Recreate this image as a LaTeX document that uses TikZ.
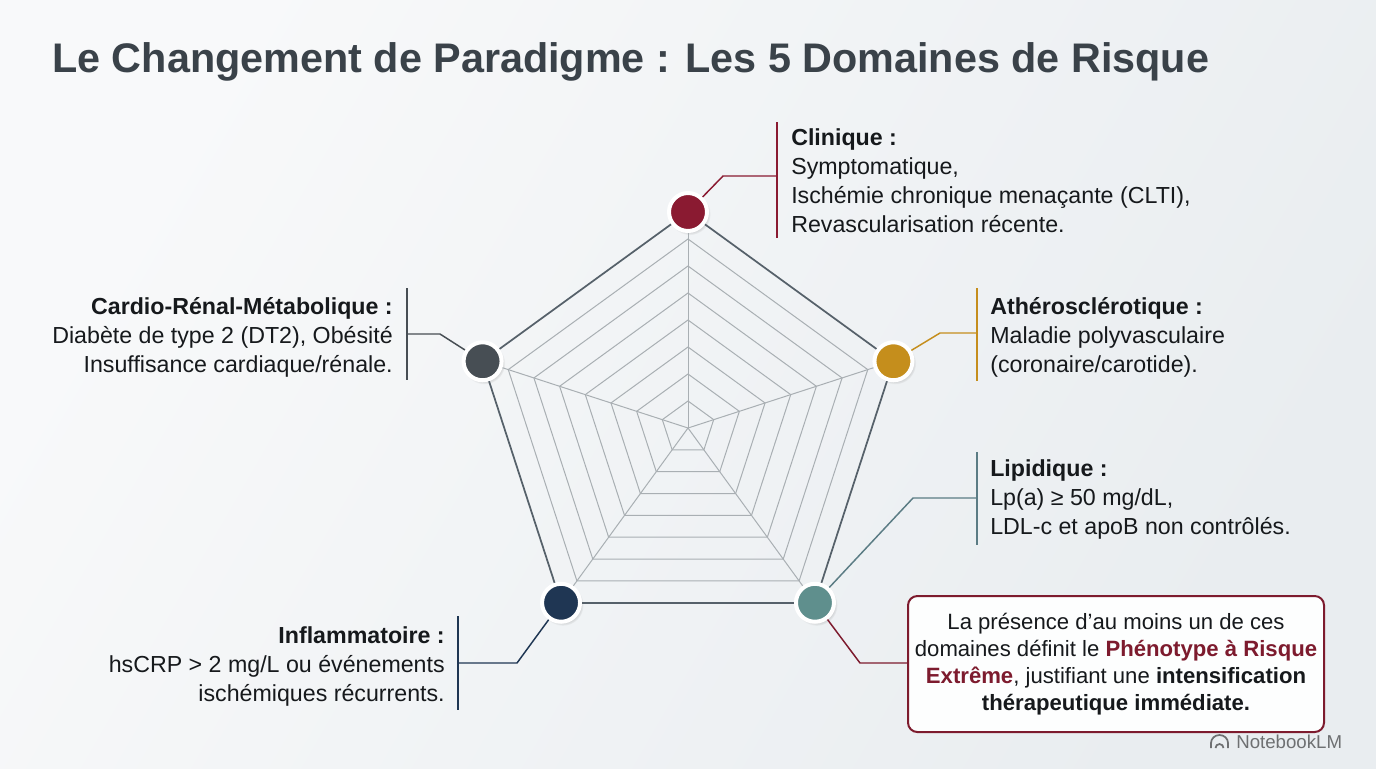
\documentclass[tikz,border=0pt]{standalone}
\usepackage{fontspec}
\setmainfont{Liberation Sans}
\usepackage{xcolor}
\usepackage{tikz}
\usetikzlibrary{shadows}

\definecolor{titleGrey}{HTML}{3A4249}
\definecolor{inkBlack}{HTML}{16191C}
\definecolor{clinRed}{HTML}{8A1A31}
\definecolor{atheroGold}{HTML}{C58E1C}
\definecolor{lipidTeal}{HTML}{5F8F8D}
\definecolor{lipidLine}{HTML}{5B7C84}
\definecolor{inflamNavy}{HTML}{1F3653}
\definecolor{cardioGrey}{HTML}{474E54}
\definecolor{rimGrey}{HTML}{56616A}
\definecolor{webGrey}{HTML}{A9AFB3}
\definecolor{calloutRed}{HTML}{7D1B2E}
\definecolor{logoGrey}{HTML}{6E7072}
\definecolor{bgLight}{HTML}{F8F9FA}
\definecolor{bgDark}{HTML}{E9EDF0}

\newcommand{\txtsize}{\fontsize{17.4}{21.75}\selectfont}
\newcommand{\boxsize}{\fontsize{16.6}{20.25}\selectfont}

\begin{document}
\begin{tikzpicture}[x=0.75pt,y=0.75pt,yscale=-1,xscale=1,
  webline/.style={draw=webGrey, line width=0.75pt},
  rimline/.style={draw=rimGrey, line width=1.3pt},
  marker/.style={circle, draw=white, line width=3pt, minimum size=28.5pt, inner sep=0pt,
    circular drop shadow={opacity=0.25, shadow xshift=1.2pt, shadow yshift=-1.5pt, shadow scale=1.1}},
  leader/.style={line width=1.1pt},
  txt/.style={inner sep=0pt, font=\txtsize, text=inkBlack}]
%set diagram: 1376 x 768
\useasboundingbox (0,0) rectangle (1376,768);

%Shape: Background
\shade[left color=bgLight, right color=bgDark, shading angle=60] (0,0) rectangle (1376,768);

% Text Node: title
\node[anchor=west, inner sep=0pt, text=titleGrey, font=\fontsize{31}{36}\selectfont\bfseries] (title) at (52,62) {Le Changement de Paradigme : Les 5 Domaines de Risque};

%Shape: Web (nested pentagons)
\begin{scope}[shift={(688,428)}]
\foreach \k in {1,...,7}
  \draw[webline] (-90:\k*27) -- (-18:\k*27) -- (54:\k*27) -- (126:\k*27) -- (198:\k*27) -- cycle;
\coordinate (ctr) at (0,0);
\node[marker, fill=clinRed] (mClin) at (-90:216) {};
\node[marker, fill=atheroGold] (mAthero) at (-18:216) {};
\node[marker, fill=lipidTeal] (mLipid) at (54:216) {};
\node[marker, fill=inflamNavy] (mInflam) at (126:216) {};
\node[marker, fill=cardioGrey] (mCardio) at (198:216) {};
\end{scope}

%Straight Lines: spokes and rim
\foreach \m in {mClin,mAthero,mLipid,mInflam,mCardio}
  \draw[webline] (ctr) -- (\m);
\draw[rimline] (mClin) -- (mAthero);
\draw[rimline] (mAthero) -- (mLipid);
\draw[rimline] (mLipid) -- (mInflam);
\draw[rimline] (mInflam) -- (mCardio);
\draw[rimline] (mCardio) -- (mClin);

% Text Node: Clinique
\node[txt, anchor=west, align=left] (tClin) at (791,181) {\textbf{Clinique :}\\Symptomatique,\\Ischémie chronique menaçante (CLTI),\\Revascularisation récente.};
% Text Node: Athérosclérotique
\node[txt, anchor=west, align=left] (tAthero) at (990,337) {\textbf{Athérosclérotique :}\\Maladie polyvasculaire\\(coronaire/carotide).};
% Text Node: Lipidique
\node[txt, anchor=west, align=left] (tLipid) at (990,499) {\textbf{Lipidique :}\\Lp(a) ≥ 50 mg/dL,\\LDL-c et apoB non contrôlés.};
% Text Node: Cardio
\node[txt, anchor=east, align=right] (tCardio) at (393,337) {\textbf{Cardio-Rénal-Métabolique :}\\Diabète de type 2 (DT2), Obésité\\Insuffisance cardiaque/rénale.};
% Text Node: Inflammatoire
\node[txt, anchor=east, align=right] (tInflam) at (445,666) {\textbf{Inflammatoire :}\\hsCRP > 2 mg/L ou événements\\ischémiques récurrents.};

%Shape: callout box
\node[draw=calloutRed, line width=1.5pt, rounded corners=7pt, fill=white!75!bgLight,
  minimum width=312pt, minimum height=102pt, align=center, font=\boxsize, text=inkBlack] (callout) at (1116,664)
  {La présence d'au moins un de ces\\domaines définit le \textcolor{calloutRed}{\textbf{Phénotype à Risque}}\\\textcolor{calloutRed}{\textbf{Extrême}}, justifiant une \textbf{intensification}\\\textbf{thérapeutique immédiate.}};

%Straight Lines: bars beside the texts
\coordinate (bClin) at (777,176);
\coordinate (bAthero) at (977,333);
\coordinate (bLipid) at (977,498);
\coordinate (bCardio) at (407,334);
\coordinate (bInflam) at (458,663);
\draw[clinRed, leader] (777,122) -- (777,238);
\draw[atheroGold, leader] (977,288) -- (977,381);
\draw[lipidLine, leader] (977,452) -- (977,545);
\draw[cardioGrey, leader] (407,288) -- (407,380);
\draw[inflamNavy, leader] (458,616) -- (458,710);

%Straight Lines: leaders
\coordinate (kClin) at (723,176);
\coordinate (kAthero) at (940,333);
\coordinate (kLipid) at (913,498);
\coordinate (kCardio) at (440,334);
\coordinate (kInflam) at (517,663);
\coordinate (kCallout) at (860,663);
\draw[clinRed, leader] (mClin) -- (kClin) -- (bClin);
\draw[atheroGold, leader] (mAthero) -- (kAthero) -- (bAthero);
\draw[lipidLine, leader] (mLipid) -- (kLipid) -- (bLipid);
\draw[cardioGrey, leader] (mCardio) -- (kCardio) -- (bCardio);
\draw[inflamNavy, leader] (mInflam) -- (kInflam) -- (bInflam);
\draw[calloutRed, leader] (mLipid) -- (kCallout) -- (callout.west |- kCallout);

%Shape: logo
\draw[logoGrey, line width=1.3pt] (1211,748) -- (1211,743) arc (180:360:8.5 and 8) -- (1228,748);
\draw[logoGrey, line width=1.3pt] (1215.5,748) arc (180:360:4 and 4);
% Text Node: logo
\node[anchor=west, inner sep=0pt, text=logoGrey, font=\fontsize{14}{16}\selectfont] (logo) at (1236,742) {NotebookLM};
\end{tikzpicture}
\end{document}
